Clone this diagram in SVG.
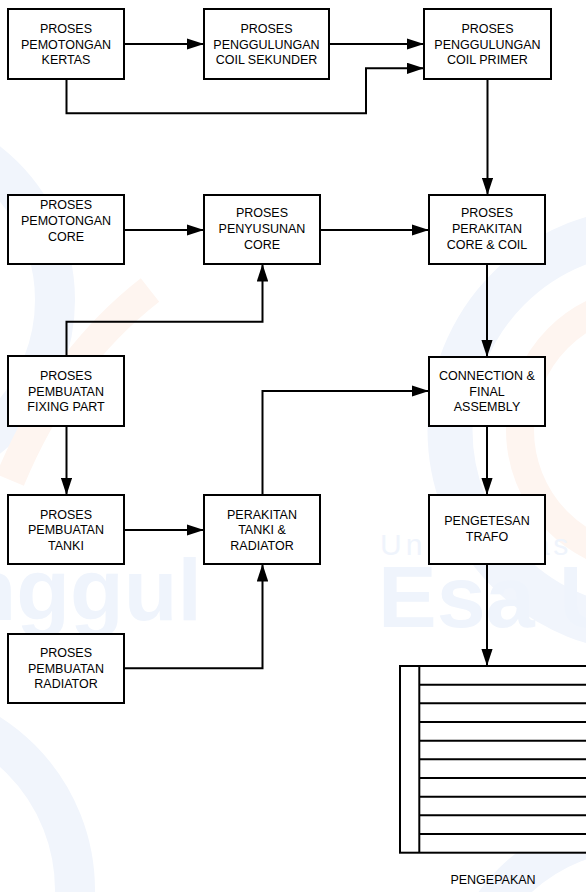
<svg xmlns="http://www.w3.org/2000/svg" width="586" height="892" viewBox="0 0 586 892">
  <defs>
    <style>
      .box { fill: #ffffff; stroke: #000000; stroke-width: 2; }
      .lbl { font-family: "Liberation Sans", Arial, sans-serif; font-size: 12.5px; text-anchor: middle; fill: #000000; }
      .wire { fill: none; stroke: #000000; stroke-width: 2; }
      .row { stroke: #000000; stroke-width: 2; }
      .wm { font-family: "Liberation Sans", Arial, sans-serif; font-weight: bold; font-size: 88px; fill: #eff4fc; }
      .wm-thin { font-family: "Liberation Sans", Arial, sans-serif; font-size: 30px; letter-spacing: 4px; fill: #eff4fc; }
      .arc-b { fill: none; stroke: #f1f5fc; }
      .arc-o { fill: none; stroke: #fef5f0; }
    </style>
    <marker id="arrow" viewBox="0 0 17.5 11.5" refX="17.5" refY="5.75" markerWidth="17.5" markerHeight="11.5" markerUnits="userSpaceOnUse" orient="auto">
      <path d="M0,0 L17.5,5.75 L0,11.5 z" fill="#000000"/>
    </marker>
  </defs>

  <rect width="586" height="892" fill="#ffffff"/>

  <!-- faint background watermark -->
  <g id="watermark">
    <circle class="arc-b" cx="-120" cy="300" r="175" stroke-width="40"/>
    <path class="arc-o" d="M150,290 Q60,360 10,480" stroke-width="30"/>
    <circle class="arc-b" cx="650" cy="430" r="200" stroke-width="45"/>
    <circle class="arc-o" cx="650" cy="430" r="130" stroke-width="28"/>
    <circle class="arc-b" cx="640" cy="1010" r="180" stroke-width="40"/>
    <circle class="arc-b" cx="-110" cy="890" r="185" stroke-width="40"/>
    <text class="wm-thin" x="380" y="555">Universitas</text>
    <text class="wm" x="378" y="627">Esa U</text>
    <text class="wm" x="202" y="620" text-anchor="end">nggul</text>
  </g>

  <!-- process nodes -->
  <g id="potong-kertas">
    <rect class="box" x="8" y="9" width="116" height="70"/>
    <text class="lbl" x="66" y="33">PROSES</text>
    <text class="lbl" x="66" y="48.5">PEMOTONGAN</text>
    <text class="lbl" x="66" y="64">KERTAS</text>
  </g>
  <g id="gulung-sekunder">
    <rect class="box" x="204" y="9" width="125" height="70"/>
    <text class="lbl" x="266.5" y="33">PROSES</text>
    <text class="lbl" x="266.5" y="48.5">PENGGULUNGAN</text>
    <text class="lbl" x="266.5" y="64">COIL SEKUNDER</text>
  </g>
  <g id="gulung-primer">
    <rect class="box" x="424" y="9" width="127" height="70"/>
    <text class="lbl" x="487.5" y="33">PROSES</text>
    <text class="lbl" x="487.5" y="48.5">PENGGULUNGAN</text>
    <text class="lbl" x="487.5" y="64">COIL PRIMER</text>
  </g>
  <g id="potong-core">
    <rect class="box" x="8" y="195" width="116" height="69"/>
    <text class="lbl" x="66" y="209">PROSES</text>
    <text class="lbl" x="66" y="225">PEMOTONGAN</text>
    <text class="lbl" x="66" y="241">CORE</text>
  </g>
  <g id="susun-core">
    <rect class="box" x="204" y="195" width="116" height="69"/>
    <text class="lbl" x="262" y="217">PROSES</text>
    <text class="lbl" x="262" y="233">PENYUSUNAN</text>
    <text class="lbl" x="262" y="249">CORE</text>
  </g>
  <g id="rakit-core-coil">
    <rect class="box" x="429" y="195" width="116" height="69"/>
    <text class="lbl" x="487" y="217">PROSES</text>
    <text class="lbl" x="487" y="233">PERAKITAN</text>
    <text class="lbl" x="487" y="249">CORE &amp; COIL</text>
  </g>
  <g id="fixing-part">
    <rect class="box" x="8" y="356" width="116" height="70"/>
    <text class="lbl" x="66" y="380">PROSES</text>
    <text class="lbl" x="66" y="395.5">PEMBUATAN</text>
    <text class="lbl" x="66" y="411">FIXING PART</text>
  </g>
  <g id="final-assembly">
    <rect class="box" x="429" y="357" width="116" height="69"/>
    <text class="lbl" x="487" y="380">CONNECTION &amp;</text>
    <text class="lbl" x="487" y="395.5">FINAL</text>
    <text class="lbl" x="487" y="411">ASSEMBLY</text>
  </g>
  <g id="buat-tanki">
    <rect class="box" x="8" y="495" width="116" height="69"/>
    <text class="lbl" x="66" y="518.5">PROSES</text>
    <text class="lbl" x="66" y="534">PEMBUATAN</text>
    <text class="lbl" x="66" y="549.5">TANKI</text>
  </g>
  <g id="rakit-tanki">
    <rect class="box" x="204" y="495" width="116" height="69"/>
    <text class="lbl" x="262" y="518.5">PERAKITAN</text>
    <text class="lbl" x="262" y="534">TANKI &amp;</text>
    <text class="lbl" x="262" y="549.5">RADIATOR</text>
  </g>
  <g id="pengetesan">
    <rect class="box" x="429" y="495" width="116" height="69"/>
    <text class="lbl" x="487" y="525">PENGETESAN</text>
    <text class="lbl" x="487" y="540.5">TRAFO</text>
  </g>
  <g id="buat-radiator">
    <rect class="box" x="8" y="634" width="116" height="69"/>
    <text class="lbl" x="66" y="657">PROSES</text>
    <text class="lbl" x="66" y="672.5">PEMBUATAN</text>
    <text class="lbl" x="66" y="688">RADIATOR</text>
  </g>

  <!-- packing: stacked layers -->
  <g id="pengepakan">
    <rect class="box" x="400" y="666" width="192" height="186.7"/>
    <line class="row" x1="419.3" y1="666" x2="419.3" y2="852.7"/>
    <line class="row" x1="419.3" y1="684.7" x2="592" y2="684.7"/>
    <line class="row" x1="419.3" y1="703.3" x2="592" y2="703.3"/>
    <line class="row" x1="419.3" y1="722" x2="592" y2="722"/>
    <line class="row" x1="419.3" y1="740.7" x2="592" y2="740.7"/>
    <line class="row" x1="419.3" y1="759.3" x2="592" y2="759.3"/>
    <line class="row" x1="419.3" y1="778" x2="592" y2="778"/>
    <line class="row" x1="419.3" y1="796.7" x2="592" y2="796.7"/>
    <line class="row" x1="419.3" y1="815.3" x2="592" y2="815.3"/>
    <line class="row" x1="419.3" y1="834" x2="592" y2="834"/>
    <text class="lbl" x="493" y="884">PENGEPAKAN</text>
  </g>

  <!-- connectors -->
  <g id="connectors">
    <path class="wire" d="M124,44 H204" marker-end="url(#arrow)"/>
    <path class="wire" d="M329,44 H424" marker-end="url(#arrow)"/>
    <path class="wire" d="M66.5,79 V113.3 H366 V68.3 H424" marker-end="url(#arrow)"/>
    <path class="wire" d="M487.5,79 V195" marker-end="url(#arrow)"/>
    <path class="wire" d="M124,230 H204" marker-end="url(#arrow)"/>
    <path class="wire" d="M320,230 H429" marker-end="url(#arrow)"/>
    <path class="wire" d="M66.5,356 V321.7 H262.5 V264" marker-end="url(#arrow)"/>
    <path class="wire" d="M487,264 V357" marker-end="url(#arrow)"/>
    <path class="wire" d="M66.5,426 V495" marker-end="url(#arrow)"/>
    <path class="wire" d="M262.5,495 V391 H429" marker-end="url(#arrow)"/>
    <path class="wire" d="M124,530 H204" marker-end="url(#arrow)"/>
    <path class="wire" d="M124,668.3 H262.5 V564" marker-end="url(#arrow)"/>
    <path class="wire" d="M487,426 V495" marker-end="url(#arrow)"/>
    <path class="wire" d="M487,564 V666" marker-end="url(#arrow)"/>
  </g>
</svg>
